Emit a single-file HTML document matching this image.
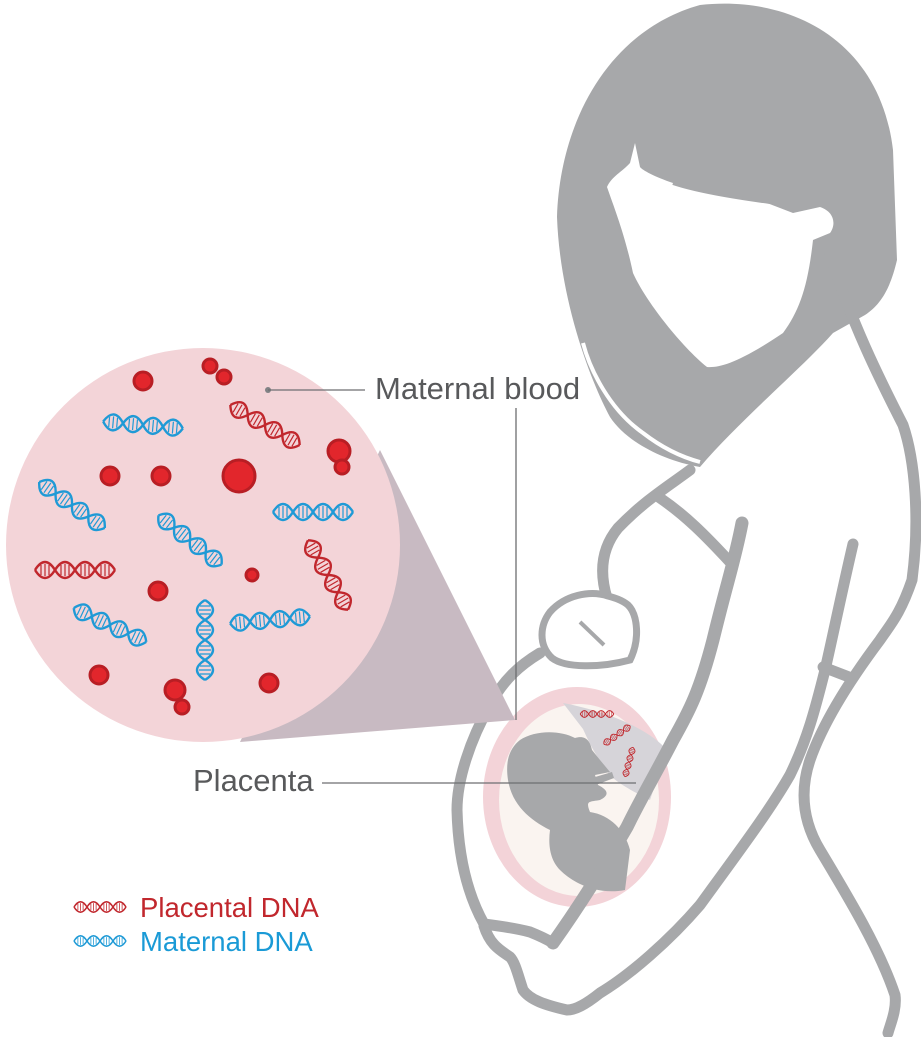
<!DOCTYPE html>
<html><head><style>
html,body{margin:0;padding:0;background:#fff;}
svg{display:block;}
text{font-family:"Liberation Sans",sans-serif;}
</style></head><body>
<svg width="921" height="1037" viewBox="0 0 921 1037" xmlns="http://www.w3.org/2000/svg">
<defs>
<g id="hb">
<path d="M-40 0 Q-30 -16 -20 0 T0 0 T20 0 T40 0" fill="none" stroke="#1f9ad6" stroke-width="2.4"/>
<path d="M-40 0 Q-30 16 -20 0 T0 0 T20 0 T40 0" fill="none" stroke="#1f9ad6" stroke-width="2.4"/>
<path d="M-34 -5V5M-30 -6V6M-26 -5V5M-14 -5V5M-10 -6V6M-6 -5V5M6 -5V5M10 -6V6M14 -5V5M26 -5V5M30 -6V6M34 -5V5" stroke="#1f9ad6" stroke-width="1.2"/>
</g>
<g id="hr">
<path d="M-40 0 Q-30 -16 -20 0 T0 0 T20 0 T40 0" fill="none" stroke="#c1272d" stroke-width="2.4"/>
<path d="M-40 0 Q-30 16 -20 0 T0 0 T20 0 T40 0" fill="none" stroke="#c1272d" stroke-width="2.4"/>
<path d="M-34 -5V5M-30 -6V6M-26 -5V5M-14 -5V5M-10 -6V6M-6 -5V5M6 -5V5M10 -6V6M14 -5V5M26 -5V5M30 -6V6M34 -5V5" stroke="#c1272d" stroke-width="1.2"/>
</g>
</defs>

<!-- hair -->
<path d="M557 217 C560 120 610 30 700 5 C790 -5 880 40 893 150 L897 260 C890 290 880 305 865 315 L833 333 C800 370 740 420 700 467 C660 460 625 440 610 417 C590 380 560 300 557 217Z" fill="#a7a8aa"/>
<path d="M583 343 C590 370 610 410 643 433 C665 450 685 458 700 462" fill="none" stroke="#fff" stroke-width="4"/>
<path d="M607 187 C615 210 625 235 633 273 C645 300 680 345 707 367 C720 368 740 362 783 333 C800 310 808 285 813 240 L830 233 C836 225 835 212 820 207 L793 213 L767 203 C730 196 690 190 673 183 C655 177 642 170 640 167 L635 143 L630 163 C622 172 612 176 607 187Z" fill="#fff"/>
<path d="M673 183 C700 192 740 198 770 202" stroke="#a7a8aa" stroke-width="4" fill="none"/>

<!-- body outlines -->
<g fill="none" stroke="#a7a8aa" stroke-width="11" stroke-linecap="round" stroke-linejoin="round">
<path d="M830 253 C850 320 880 380 903 425 C915 460 920 520 912 580 C900 615 890 625 880 640 C850 680 823 723 810 760 C800 790 802 820 820 850 C850 900 880 950 895 995 C897 1010 890 1025 888 1033"/>
<path d="M690 470 C670 485 645 500 618 528 C600 550 600 575 607 598"/>
<path d="M660 498 C685 515 705 535 730 562"/>
<path d="M853 544 C840 600 832 640 825 670 C815 710 807 740 790 775 C770 810 740 850 700 905 C670 940 630 975 600 993 C585 1005 575 1010 567 1010 C545 1005 530 1000 523 990 C518 975 515 962 510 957 C500 950 490 945 484 926"/>
<path d="M823 667 L849 677"/>
<path d="M540 653 C520 665 503 680 490 705 C470 740 457 780 457 810 C458 850 465 890 484 924"/>
<path d="M484 924 C500 926 515 928 530 932 C540 936 548 940 553 943"/>
</g>
<!-- hand -->
<path d="M608 596 C590 590 565 595 550 612 C540 625 538 645 552 658 C565 668 600 668 630 660 C640 640 638 615 628 605 C622 600 615 598 608 596Z" fill="#fff" stroke="#a7a8aa" stroke-width="7"/>
<path d="M580 622 L604 645" stroke="#a7a8aa" stroke-width="4"/>

<!-- womb -->
<ellipse cx="577" cy="797" rx="94" ry="110" fill="#f3d3d8"/>
<ellipse cx="579" cy="800" rx="80" ry="96" fill="#faf4f0"/>
<path d="M563 703 C610 712 650 730 667 750 L650 800 C630 790 612 780 607 771 C595 755 588 740 583 729 Z" fill="#d6d4d9"/>
<path d="M520 740 C535 730 560 730 575 738 C585 735 590 740 592 750 L600 760 L610 772 L595 775 L598 785 C608 790 610 795 600 800 C590 802 585 800 590 812 C610 815 625 830 630 850 L625 890 C600 895 575 885 560 870 C550 860 548 845 550 830 C530 820 512 805 508 780 C505 760 510 748 520 740Z" fill="#a7a8aa"/>
<path d="M585 780 L612 772 L614 778 L588 788Z" fill="#a7a8aa"/>
<!-- front arm line over womb -->
<path d="M742 523 C735 560 727 582 713 640 C700 690 690 710 673 740 C655 775 640 800 627 827 C605 865 580 905 553 943" fill="none" stroke="#a7a8aa" stroke-width="13" stroke-linecap="round"/>
<use href="#hr" transform="translate(597 714) scale(0.42)"/>
<use href="#hr" transform="translate(617 735) rotate(-35) scale(0.4)"/>
<use href="#hr" transform="translate(629 762) rotate(-75) scale(0.38)"/>

<!-- cone -->
<path d="M380 450 L515 720 L240 742 Z" fill="#c8bac2"/>
<!-- magnifier -->
<circle cx="203" cy="545" r="197" fill="#f3d4d8"/>

<g fill="#e2262c" stroke="#b81e24" stroke-width="3">
<circle cx="143" cy="381" r="9"/><circle cx="210" cy="366" r="7"/><circle cx="224" cy="377" r="7"/>
<circle cx="239" cy="476" r="16"/><circle cx="339" cy="451" r="11"/><circle cx="342" cy="467" r="7"/>
<circle cx="110" cy="476" r="9"/><circle cx="161" cy="476" r="9"/><circle cx="252" cy="575" r="6"/>
<circle cx="158" cy="591" r="9"/><circle cx="99" cy="675" r="9"/><circle cx="175" cy="690" r="10"/>
<circle cx="182" cy="707" r="7"/><circle cx="269" cy="683" r="9"/>
</g>
<use href="#hb" transform="translate(143 425) rotate(5)"/>
<use href="#hr" transform="translate(265 425) rotate(30)"/>
<use href="#hb" transform="translate(72 505) rotate(35)"/>
<use href="#hb" transform="translate(190 540) rotate(38)"/>
<use href="#hb" transform="translate(313 512)"/>
<use href="#hr" transform="translate(328 575) rotate(60)"/>
<use href="#hr" transform="translate(75 570)"/>
<use href="#hb" transform="translate(110 625) rotate(25)"/>
<use href="#hb" transform="translate(205 640) rotate(90)"/>
<use href="#hb" transform="translate(270 620) rotate(-5)"/>

<!-- labels -->
<circle cx="268" cy="390" r="3" fill="#808285"/>
<path d="M268 390H365M516 408V720M322 783H636" stroke="#6d6e71" stroke-width="1.3"/>
<text x="375" y="399" font-size="31" fill="#58595b">Maternal blood</text>
<text x="193" y="791" font-size="31" fill="#58595b">Placenta</text>

<use href="#hr" transform="translate(100 907) scale(0.65)"/>
<use href="#hb" transform="translate(100 941) scale(0.65)"/>
<text x="140" y="917" font-size="27.5" fill="#c1272d">Placental DNA</text>
<text x="140" y="951" font-size="27.5" fill="#1a9ad6">Maternal DNA</text>
</svg>
</body></html>
